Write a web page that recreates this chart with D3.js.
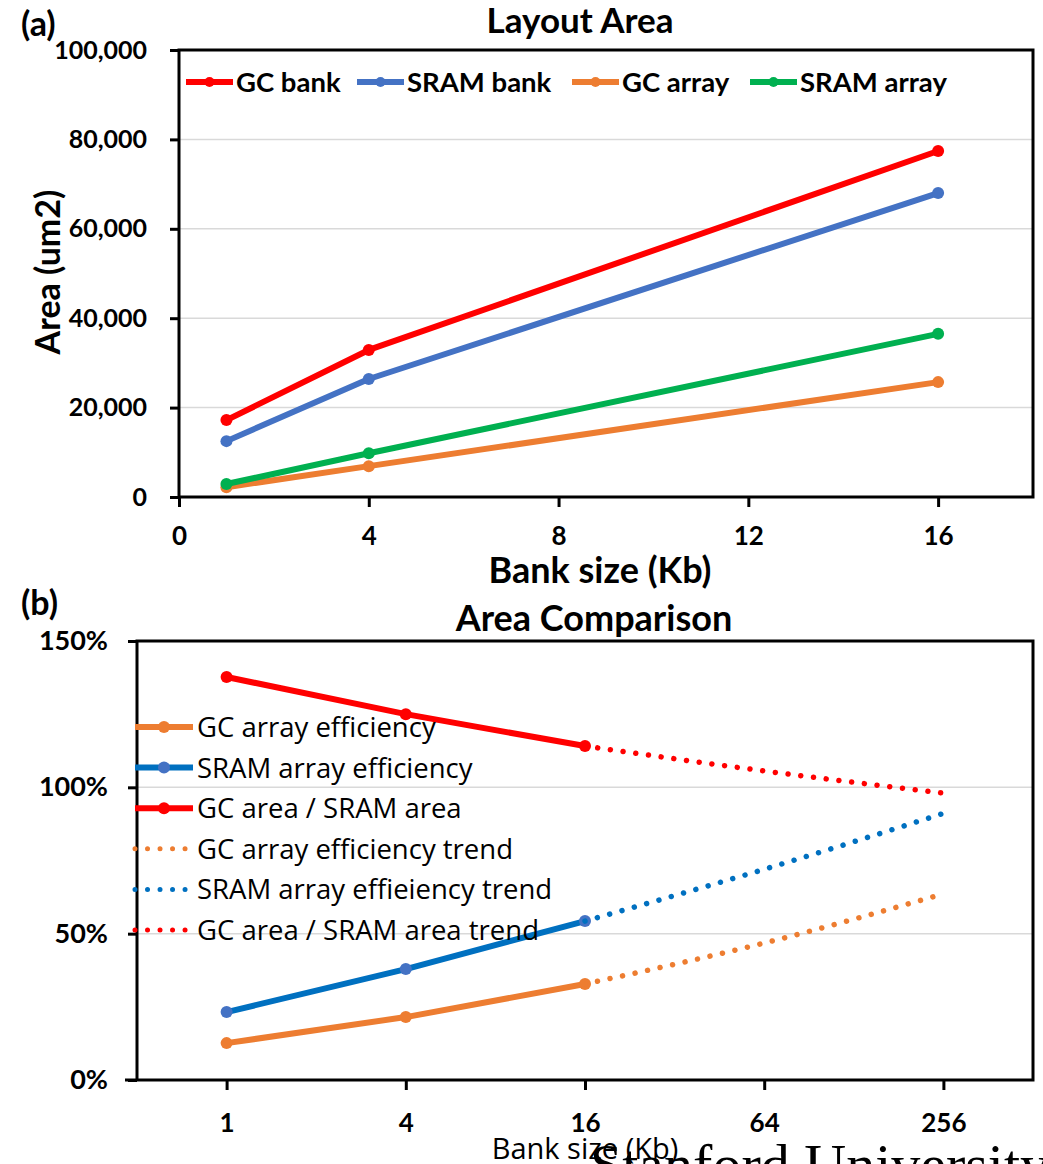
<!DOCTYPE html>
<html>
<head>
<meta charset="utf-8">
<script src="https://cdn.jsdelivr.net/npm/d3@7"></script>
<style>
body { margin: 0; background: #fff; }
svg text { font-family: Lato, "Open Sans", sans-serif; fill: #000; }
</style>
</head>
<body>
<script>
// (a) layout area, um2
var bankSizes = [1, 4, 16];
var gcBank = [17200, 32900, 77400];
var sramBank = [12500, 26400, 68000];
var gcArray = [2200, 6900, 25700];
var sramArray = [2900, 9800, 36500];
var areaTicks = [0, 20000, 40000, 60000, 80000, 100000];
var sizeTicks = [0, 4, 8, 12, 16];

// (b) area comparison, %
var sizeCats = ["1", "4", "16", "64", "256"];
var measuredCats = ["1", "4", "16"];
var trendCats = ["16", "64", "256"];
var gcEff = [12.6, 21.5, 32.8];
var sramEff = [23.2, 37.9, 54.3];
var gcRatio = [137.7, 125.0, 114.1];
var gcEffTrend = [32.8, 46.8, 63.6];
var sramEffTrend = [54.3, 72.0, 91.1];
var gcRatioTrend = [114.1, 105.6, 98.0];
var pctTicks = [0, 50, 100, 150];

var red = "#ff0000", blue = "#4472c4", darkBlue = "#0070c0", orange = "#ed7d31", green = "#00b050";
var plainFont = "'Open Sans', Lato, sans-serif";

var svg = d3.select("body").append("svg")
    .attr("width", 1043)
    .attr("height", 1164);
svg.append("rect").attr("width", 1043).attr("height", 1164).attr("fill", "#fff");

function zip(xs, ys) {
  return xs.map(function(d, i) { return {x: d, y: ys[i]}; });
}

function styleAxis(g, size, weight) {
  g.select(".domain").remove();
  g.selectAll(".tick line").attr("stroke", "#000").attr("stroke-width", 3);
  g.selectAll(".tick text")
    .style("font-size", size + "px")
    .style("font-weight", weight)
    .attr("fill", "#000");
}

// ---------- panel (a) ----------
var a = {left: 179, right: 1033, top: 50, bottom: 497};
var xa = d3.scaleLinear().domain([0, 18]).range([a.left, a.right]);
var ya = d3.scaleLinear().domain([0, 100000]).range([a.bottom, a.top]);

svg.append("g").selectAll("line")
    .data(areaTicks.slice(1, -1))
  .enter().append("line")
    .attr("x1", a.left).attr("x2", a.right)
    .attr("y1", function(d) { return ya(d); })
    .attr("y2", function(d) { return ya(d); })
    .attr("stroke", "#d9d9d9").attr("stroke-width", 1.5);

svg.append("g")
    .attr("transform", "translate(" + a.left + ",0)")
    .call(d3.axisLeft(ya).tickValues(areaTicks).tickFormat(d3.format(",")).tickSize(9).tickPadding(23))
    .call(styleAxis, 25, 700);

svg.append("g")
    .attr("transform", "translate(0," + a.bottom + ")")
    .call(d3.axisBottom(xa).tickValues(sizeTicks).tickSize(10).tickPadding(20))
    .call(styleAxis, 26, 700);

svg.append("rect")
    .attr("x", a.left).attr("y", a.top)
    .attr("width", a.right - a.left).attr("height", a.bottom - a.top)
    .attr("fill", "none").attr("stroke", "#000").attr("stroke-width", 3);

var lineA = d3.line()
    .x(function(d) { return xa(d.x); })
    .y(function(d) { return ya(d.y); });

var seriesA = [
  {name: "GC bank", color: red, values: gcBank},
  {name: "SRAM bank", color: blue, values: sramBank},
  {name: "GC array", color: orange, values: gcArray},
  {name: "SRAM array", color: green, values: sramArray}
];

// draw order so that green sits over orange like the original
[seriesA[2], seriesA[3], seriesA[1], seriesA[0]].forEach(function(s) {
  var pts = zip(bankSizes, s.values);
  svg.append("path")
      .datum(pts)
      .attr("d", lineA)
      .attr("fill", "none")
      .attr("stroke", s.color)
      .attr("stroke-width", 6)
      .attr("stroke-linejoin", "round");
  svg.append("g").selectAll("circle")
      .data(pts)
    .enter().append("circle")
      .attr("cx", function(d) { return xa(d.x); })
      .attr("cy", function(d) { return ya(d.y); })
      .attr("r", 6)
      .attr("fill", s.color);
});

var legendAx = [186, 357, 572, 750];
var legA = svg.append("g").selectAll("g")
    .data(seriesA)
  .enter().append("g")
    .attr("transform", function(d, i) { return "translate(" + legendAx[i] + ",82)"; });
legA.append("line")
    .attr("x1", 0).attr("x2", 47)
    .attr("stroke", function(d) { return d.color; })
    .attr("stroke-width", 6);
legA.append("circle")
    .attr("cx", 23.5).attr("r", 5)
    .attr("fill", function(d) { return d.color; });
legA.append("text")
    .attr("x", 50).attr("y", 10)
    .style("font-size", "27.5px").style("font-weight", 700)
    .text(function(d) { return d.name; });

svg.append("text")
    .attr("x", 21).attr("y", 36)
    .style("font-size", "34px").style("font-weight", 700)
    .text("(a)");
svg.append("text")
    .attr("x", 580).attr("y", 33)
    .attr("text-anchor", "middle")
    .style("font-size", "35px").style("font-weight", 700)
    .text("Layout Area");
svg.append("text")
    .attr("x", 600).attr("y", 583)
    .attr("text-anchor", "middle")
    .style("font-size", "36px").style("font-weight", 700)
    .text("Bank size (Kb)");
svg.append("text")
    .attr("transform", "translate(60,272) rotate(-90)")
    .attr("text-anchor", "middle")
    .style("font-size", "34px").style("font-weight", 700)
    .text("Area (um2)");

// ---------- panel (b) ----------
var b = {left: 137, right: 1033, top: 641, bottom: 1080};
var xb = d3.scalePoint().domain(sizeCats).range([b.left, b.right]).padding(0.5);
var yb = d3.scaleLinear().domain([0, 150]).range([b.bottom, b.top]);

svg.append("g").selectAll("line")
    .data(pctTicks.slice(1, -1))
  .enter().append("line")
    .attr("x1", b.left).attr("x2", b.right)
    .attr("y1", function(d) { return yb(d); })
    .attr("y2", function(d) { return yb(d); })
    .attr("stroke", "#d9d9d9").attr("stroke-width", 1.5);

svg.append("g")
    .attr("transform", "translate(" + b.left + ",0)")
    .call(d3.axisLeft(yb).tickValues(pctTicks).tickFormat(function(d) { return d + "%"; }).tickSize(9).tickPadding(20))
    .call(styleAxis, 27, 700);

svg.append("g")
    .attr("transform", "translate(0," + b.bottom + ")")
    .call(d3.axisBottom(xb).tickSize(10).tickPadding(24))
    .call(styleAxis, 26, 700);

svg.append("rect")
    .attr("x", b.left).attr("y", b.top)
    .attr("width", b.right - b.left).attr("height", b.bottom - b.top)
    .attr("fill", "none").attr("stroke", "#000").attr("stroke-width", 3);
svg.append("line")
    .attr("x1", b.left - 12).attr("x2", b.left)
    .attr("y1", b.bottom).attr("y2", b.bottom)
    .attr("stroke", "#000").attr("stroke-width", 3);

var lineB = d3.line()
    .x(function(d) { return xb(d.x); })
    .y(function(d) { return yb(d.y); });
var trendLine = d3.line()
    .curve(d3.curveMonotoneX)
    .x(function(d) { return xb(d.x); })
    .y(function(d) { return yb(d.y); });

var seriesB = [
  {name: "GC array efficiency", color: orange, marker: orange, values: gcEff, dotted: false},
  {name: "SRAM array efficiency", color: darkBlue, marker: blue, values: sramEff, dotted: false},
  {name: "GC area / SRAM area", color: red, marker: red, values: gcRatio, dotted: false},
  {name: "GC array efficiency trend", color: orange, values: gcEffTrend, dotted: true},
  {name: "SRAM array effieiency trend", color: darkBlue, values: sramEffTrend, dotted: true},
  {name: "GC area / SRAM area trend", color: red, values: gcRatioTrend, dotted: true}
];

seriesB.forEach(function(s) {
  if (s.dotted) {
    svg.append("path")
        .datum(zip(trendCats, s.values))
        .attr("d", trendLine)
        .attr("fill", "none")
        .attr("stroke", s.color)
        .attr("stroke-width", 5.5)
        .attr("stroke-linecap", "round")
        .attr("stroke-dasharray", "0.01 12.8");
  } else {
    var pts = zip(measuredCats, s.values);
    svg.append("path")
        .datum(pts)
        .attr("d", lineB)
        .attr("fill", "none")
        .attr("stroke", s.color)
        .attr("stroke-width", 6)
        .attr("stroke-linejoin", "round");
    svg.append("g").selectAll("circle")
        .data(pts)
      .enter().append("circle")
        .attr("cx", function(d) { return xb(d.x); })
        .attr("cy", function(d) { return yb(d.y); })
        .attr("r", 6)
        .attr("fill", s.marker);
  }
});

var legB = svg.append("g").selectAll("g")
    .data(seriesB)
  .enter().append("g")
    .attr("transform", function(d, i) { return "translate(135," + (727 + i * 40.6) + ")"; });
legB.append("line")
    .attr("x1", 0)
    .attr("x2", 58)
    .attr("stroke", function(d) { return d.color; })
    .attr("stroke-width", function(d) { return d.dotted ? 5 : 6; })
    .attr("stroke-linecap", function(d) { return d.dotted ? "round" : "butt"; })
    .attr("stroke-dasharray", function(d) { return d.dotted ? "0.01 12.5" : null; });
legB.filter(function(d) { return !d.dotted; }).append("circle")
    .attr("cx", 29).attr("r", 6)
    .attr("fill", function(d) { return d.marker; });
legB.append("text")
    .attr("x", 62).attr("y", 10)
    .style("font-family", plainFont)
    .style("font-size", "27.5px")
    .text(function(d) { return d.name; });

svg.append("text")
    .attr("x", 21).attr("y", 615)
    .style("font-size", "34px").style("font-weight", 700)
    .text("(b)");
svg.append("text")
    .attr("x", 594).attr("y", 631)
    .attr("text-anchor", "middle")
    .style("font-size", "36px").style("font-weight", 700)
    .text("Area Comparison");

svg.append("text")
    .attr("x", 590).attr("y", 1184)
    .style("font-family", "'Liberation Serif', 'DejaVu Serif', serif")
    .style("font-size", "58px")
    .attr("fill", "#8c1515")
    .text("Stanford University");
svg.append("text")
    .attr("x", 585).attr("y", 1159)
    .attr("text-anchor", "middle")
    .style("font-family", plainFont)
    .style("font-size", "29px")
    .text("Bank size (Kb)");
</script>
</body>
</html>
